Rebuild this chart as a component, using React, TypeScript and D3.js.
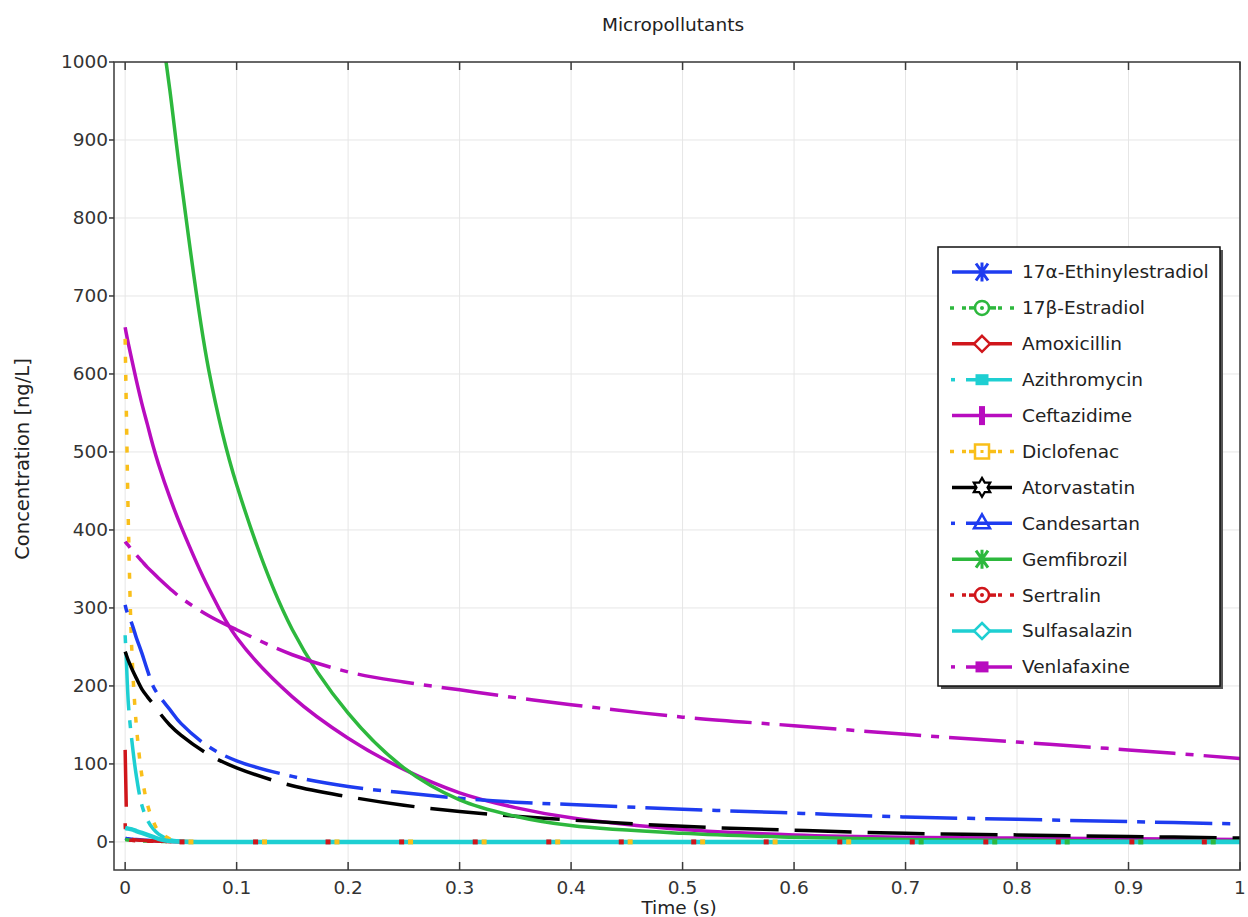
import React, { useEffect, useRef } from 'react';
import * as d3 from 'd3';

// time grid shared by all series (s)
const timeS = [0, 0.001, 0.003, 0.006, 0.01, 0.015, 0.02, 0.025, 0.03, 0.04, 0.05, 0.075, 0.1, 0.15, 0.2, 0.25, 0.3, 0.35, 0.4, 0.5, 0.6, 0.7, 0.8, 0.9, 1.0];

// concentrations in ng/L
const ethinylestradiol = [5, 4.5, 4, 3.5, 3, 2.5, 2, 1.6, 1.3, 0.8, 0.5, 0.2, 0.1, 0, 0, 0, 0, 0, 0, 0, 0, 0, 0, 0, 0];
const estradiol = [3, 2.8, 2.5, 2.2, 1.8, 1.4, 1.1, 0.9, 0.7, 0.4, 0.2, 0.1, 0, 0, 0, 0, 0, 0, 0, 0, 0, 0, 0, 0, 0];
const amoxicillin = [118, 45, null, 3, 2.5, 2, 1.6, 1.3, 1, 0.6, 0.3, 0.1, 0, 0, 0, 0, 0, 0, 0, 0, 0, 0, 0, 0, 0];
const azithromycin = [265, 235, 175, 130, 85, 47, 28, 17, 10, 3, 1, 0.2, 0, 0, 0, 0, 0, 0, 0, 0, 0, 0, 0, 0, 0];
const ceftazidime = [660, 652, 638, 618, 592, 562, 535, 508, 484, 442, 405, 325, 262, 186, 133, 93, 63, 44, 31, 16, 9, 6, 5, 4, 3];
const diclofenac = [645, 560, 400, 245, 150, 85, 48, 27, 14, 4, 1, 0.2, 0, 0, 0, 0, 0, 0, 0, 0, 0, 0, 0, 0, 0];
const atorvastatin = [244, 240, 232, 222, 210, 196, 186, 177, 167, 150, 137, 112, 95, 72, 58, 47, 39, 33, 28, 20, 15, 11, 9, 7, 5];
const candesartan = [304, 298, 290, 280, 262, 242, 220, 200, 188, 170, 152, 122, 104, 84, 71, 63, 56, 51, 48, 42, 37, 32, 29, 26, 23];
const gemfibrozil = [1500, 1480, 1450, 1400, 1340, 1270, 1200, 1130, 1070, 965, 850, 605, 458, 272, 165, 95, 54, 33, 21, 11, 6, 3, 2, 1, 1];
const sertralin = [24, 8, 3, 2, 1.5, 1.2, 1, 0.8, 0.6, 0.4, 0.2, 0.1, 0, 0, 0, 0, 0, 0, 0, 0, 0, 0, 0, 0, 0];
const sulfasalazin = [18, 17.6, 17, 16, 14, 11.5, 9, 6.5, 4, 1, 0.3, 0, 0, 0, 0, 0, 0, 0, 0, 0, 0, 0, 0, 0, 0];
const venlafaxine = [385, 383, 380, 374, 368, 360, 352, 345, 338, 325, 313, 290, 272, 240, 218, 205, 195, 185, 176, 160, 149, 138, 128, 118, 107];

// marker positions visible on the zero line (s)
const sertralinMarks = [0.051, 0.117, 0.182, 0.248, 0.314, 0.38, 0.445, 0.51, 0.575, 0.641, 0.706, 0.772, 0.837, 0.903, 0.968];
const diclofenacMarks = [0.059, 0.125, 0.19, 0.256, 0.322, 0.388, 0.453, 0.518, 0.583, 0.649];
const estradiolMarks = [0.714, 0.78, 0.845, 0.911, 0.976];

const seriesNames = ['17α-Ethinylestradiol', '17β-Estradiol', 'Amoxicillin', 'Azithromycin', 'Ceftazidime', 'Diclofenac', 'Atorvastatin', 'Candesartan', 'Gemfibrozil', 'Sertralin', 'Sulfasalazin', 'Venlafaxine'];
const seriesValues = [ethinylestradiol, estradiol, amoxicillin, azithromycin, ceftazidime, diclofenac, atorvastatin, candesartan, gemfibrozil, sertralin, sulfasalazin, venlafaxine];
const seriesColors = ['#1e3cf0', '#2db83d', '#d0161b', '#1ecfd2', '#b80cbf', '#f9bf1a', '#000000', '#1e3cf0', '#2db83d', '#d0161b', '#1ecfd2', '#b80cbf'];
const seriesStyles = ['solid', 'dotted', 'solid', 'dashdot', 'solid', 'dotted', 'dashed', 'dashdot', 'solid', 'dotted', 'solid', 'dashdot'];
const seriesMarkers = ['asterisk', 'circledot', 'diamond', 'squarefill', 'plus', 'squaredot', 'hexagram', 'triangle', 'asterisk', 'circledot', 'diamond', 'squarefill'];

const xTicks = [0, 0.1, 0.2, 0.3, 0.4, 0.5, 0.6, 0.7, 0.8, 0.9, 1];
const yTicks = [0, 100, 200, 300, 400, 500, 600, 700, 800, 900, 1000];

const W = 1248;
const H = 917;
const FONT = '"DejaVu Sans", sans-serif';

const dashFor = (s: string) => {
    if (s === 'dotted') return '6 12';
    if (s === 'dashed') return '57 16';
    if (s === 'dashdot') return '8 10 57 10';
    return null;
};

function drawMarker(g: any, type: string, color: string) {
    if (type === 'asterisk') {
        g.append('path').attr('d', 'M0,-9.5L0,9.5M-6,-8.5L6,8.5M-6,8.5L6,-8.5')
            .attr('stroke', color).attr('stroke-width', 3).attr('fill', 'none');
    } else if (type === 'circledot') {
        g.append('circle').attr('r', 7).attr('fill', 'white').attr('stroke', color).attr('stroke-width', 2.5);
        g.append('circle').attr('r', 2).attr('fill', color);
    } else if (type === 'diamond') {
        g.append('path').attr('d', 'M0,-8L8,0L0,8L-8,0Z')
            .attr('fill', 'white').attr('stroke', color).attr('stroke-width', 2.5);
    } else if (type === 'squarefill') {
        g.append('rect').attr('x', -6.5).attr('y', -5.5).attr('width', 13).attr('height', 11).attr('fill', color);
    } else if (type === 'plus') {
        g.append('rect').attr('x', -3).attr('y', -9.5).attr('width', 6).attr('height', 19).attr('fill', color);
    } else if (type === 'squaredot') {
        g.append('rect').attr('x', -7).attr('y', -7).attr('width', 14).attr('height', 14)
            .attr('fill', 'white').attr('stroke', color).attr('stroke-width', 2.5);
        g.append('rect').attr('x', -1.5).attr('y', -1.5).attr('width', 3).attr('height', 3).attr('fill', color);
    } else if (type === 'hexagram') {
        const pts = d3.range(12).map(k => {
            const a = -Math.PI / 2 + k * Math.PI / 6;
            const r = k % 2 === 0 ? 9.5 : 5.5;
            return [r * Math.cos(a), r * Math.sin(a)];
        });
        g.append('path').attr('d', 'M' + pts.map(p => p.join(',')).join('L') + 'Z')
            .attr('fill', 'white').attr('stroke', color).attr('stroke-width', 2.2);
    } else if (type === 'triangle') {
        g.append('path').attr('d', 'M0,-9L8,5L-8,5Z')
            .attr('fill', 'none').attr('stroke', color).attr('stroke-width', 2.5);
    }
}

const App = () => {
    const svgRef = useRef<SVGSVGElement>(null);

    useEffect(() => {
        const svg = d3.select(svgRef.current);
        svg.selectAll('*').remove();

        const left = 114, right = 1240, top = 62, bottom = 870;
        const x = d3.scaleLinear().domain([-0.01, 1]).range([left, right]);
        const y = d3.scaleLinear().domain([-36, 1000]).range([bottom, top]);

        svg.append('rect').attr('width', W).attr('height', H).attr('fill', 'white');

        // grid
        const grid = svg.append('g').attr('stroke', '#e6e6e6').attr('stroke-width', 1);
        xTicks.forEach(t => grid.append('line').attr('x1', x(t)).attr('x2', x(t)).attr('y1', top).attr('y2', bottom));
        yTicks.forEach(t => grid.append('line').attr('x1', left).attr('x2', right).attr('y1', y(t)).attr('y2', y(t)));

        // curves
        svg.append('clipPath').attr('id', 'plotclip')
            .append('rect').attr('x', left).attr('y', top).attr('width', right - left).attr('height', bottom - top);

        const line = d3.line<number | null>()
            .defined(v => v !== null)
            .x((_, i) => x(timeS[i]))
            .y(v => y(v as number))
            .curve(d3.curveCatmullRom.alpha(0.5));

        const curves = svg.append('g').attr('clip-path', 'url(#plotclip)');
        seriesValues.forEach((vals, i) => {
            const p = curves.append('path')
                .attr('d', line(vals))
                .attr('fill', 'none')
                .attr('stroke', seriesColors[i])
                .attr('stroke-width', seriesNames[i] === 'Sulfasalazin' ? 4.5 : 3.5);
            const dash = dashFor(seriesStyles[i]);
            if (dash) p.attr('stroke-dasharray', dash);
        });

        // markers showing on the zero line
        const marks = svg.append('g');
        const addMarks = (ts: number[], color: string) => ts.forEach(t =>
            marks.append('rect').attr('x', x(t) - 2.5).attr('y', y(0) - 2.5).attr('width', 5).attr('height', 5).attr('fill', color));
        addMarks(sertralinMarks, seriesColors[9]);
        addMarks(diclofenacMarks, seriesColors[5]);
        addMarks(estradiolMarks, seriesColors[1]);

        // frame and ticks
        svg.append('rect').attr('x', left).attr('y', top).attr('width', right - left).attr('height', bottom - top)
            .attr('fill', 'none').attr('stroke', '#3a3a3a').attr('stroke-width', 1.5);
        const ticks = svg.append('g').attr('stroke', '#3a3a3a').attr('stroke-width', 1.5);
        xTicks.forEach(t => {
            ticks.append('line').attr('x1', x(t)).attr('x2', x(t)).attr('y1', bottom).attr('y2', bottom - 8);
            ticks.append('line').attr('x1', x(t)).attr('x2', x(t)).attr('y1', top).attr('y2', top + 8);
        });
        yTicks.forEach(t => ticks.append('line').attr('x1', left - 5).attr('x2', left).attr('y1', y(t)).attr('y2', y(t)));

        const labels = svg.append('g').attr('font-family', FONT).attr('font-size', 18.5).attr('fill', '#333');
        xTicks.forEach(t => labels.append('text').attr('x', x(t)).attr('y', 894).attr('text-anchor', 'middle').text(d3.format('~g')(t)));
        yTicks.forEach(t => labels.append('text').attr('x', 108).attr('y', y(t)).attr('dy', '0.35em').attr('text-anchor', 'end').text(t));

        svg.append('text').attr('x', 673).attr('y', 31).attr('text-anchor', 'middle')
            .attr('font-family', FONT).attr('font-size', 18.5).attr('fill', '#222').text('Micropollutants');
        svg.append('text').attr('x', 679).attr('y', 914).attr('text-anchor', 'middle')
            .attr('font-family', FONT).attr('font-size', 18.5).attr('fill', '#222').text('Time (s)');
        svg.append('text').attr('transform', 'translate(29,459) rotate(-90)').attr('text-anchor', 'middle')
            .attr('font-family', FONT).attr('font-size', 19.5).attr('fill', '#222').text('Concentration [ng/L]');

        // legend
        const lg = svg.append('g');
        lg.append('rect').attr('x', 941).attr('y', 250).attr('width', 282).attr('height', 439).attr('fill', '#555');
        lg.append('rect').attr('x', 938).attr('y', 247).attr('width', 282).attr('height', 439)
            .attr('fill', 'white').attr('stroke', '#111').attr('stroke-width', 1.5);
        seriesNames.forEach((name, i) => {
            const cy = 272 + i * 35.9;
            const c = seriesColors[i];
            const st = seriesStyles[i];
            if (st === 'dotted') {
                lg.append('line').attr('x1', 950).attr('x2', 1014).attr('y1', cy).attr('y2', cy)
                    .attr('stroke', c).attr('stroke-width', 3.5).attr('stroke-dasharray', '4 8');
                lg.append('line').attr('x1', 969).attr('x2', 996).attr('y1', cy).attr('y2', cy).attr('stroke', c).attr('stroke-width', 3.5);
            } else if (st === 'dashdot') {
                lg.append('line').attr('x1', 951).attr('x2', 955).attr('y1', cy).attr('y2', cy).attr('stroke', c).attr('stroke-width', 3.5);
                lg.append('line').attr('x1', 966).attr('x2', 1012).attr('y1', cy).attr('y2', cy).attr('stroke', c).attr('stroke-width', 3.5);
            } else {
                lg.append('line').attr('x1', 952).attr('x2', 1012).attr('y1', cy).attr('y2', cy).attr('stroke', c).attr('stroke-width', 3.5);
            }
            drawMarker(lg.append('g').attr('transform', `translate(982,${cy})`), seriesMarkers[i], c);
            lg.append('text').attr('x', 1022).attr('y', cy).attr('dy', '0.35em')
                .attr('font-family', FONT).attr('font-size', 18.5).attr('fill', '#222').text(name);
        });
    }, []);

    return <svg ref={svgRef} width={W} height={H} style={{ position: 'absolute', left: 0, top: 0 }} />;
};

export default App;
